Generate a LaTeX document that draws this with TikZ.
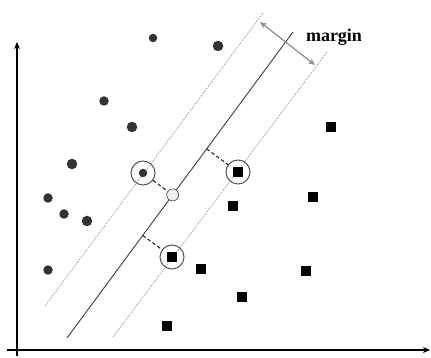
\documentclass[tikz,border=0pt]{standalone}
\usepackage{fontspec}
\setmainfont{Liberation Serif}
\usetikzlibrary{calc,arrows.meta}
\definecolor{dotgray}{HTML}{333333}
\definecolor{ringgray}{HTML}{555555}
\begin{document}
\begin{tikzpicture}[x=1pt,y=-1pt,
  bdot/.style={circle,fill=dotgray,inner sep=0pt,minimum size=#1},
  bdot/.default=9pt,
  sqr/.style={rectangle,fill=black,inner sep=0pt,minimum size=10.5pt},
  ring/.style={circle,draw=ringgray,line width=1pt,inner sep=0pt,minimum size=24pt},
  lightdot/.style={circle,draw=ringgray,fill=black!6,line width=0.7pt,inner sep=0pt,minimum size=12pt},
  marginline/.style={draw=black!40,dash pattern=on 2pt off 1pt,line width=0.6pt},
  hyper/.style={draw=black!70,line width=1pt},
  conn/.style={draw=black!85,dash pattern=on 3.5pt off 2.5pt,line width=1.1pt},
  axis/.style={line width=1.5pt,-{Stealth[length=7pt,width=6pt]}},
  marrow/.style={draw=black!45,line width=1.2pt,{Stealth[length=7pt,width=6pt]}-{Stealth[length=7pt,width=6pt]}},
]
\useasboundingbox (0,0) rectangle (431,358);

% axes
\coordinate (ybot) at (17,356);
\coordinate (ytop) at (17,42);
\coordinate (xbeg) at (7,350);
\coordinate (xend) at (430,350);
\draw[axis] (ybot) -- (ytop);
\draw[axis] (xbeg) -- (xend);

% hyperplane and margins
\coordinate (A) at (67,338);
\coordinate (B) at (293,32);
\coordinate (L1) at (45,306);
\coordinate (L2) at (263,13);
\coordinate (R1) at (113,337);
\coordinate (R2) at (327,52);
\draw[marginline] (L1) -- (L2);
\draw[marginline] (R1) -- (R2);
\draw[hyper] (A) -- (B);

% margin arrow and label
\coordinate (m1) at (260,22);
\coordinate (m2) at (315,65);
\draw[marrow] (m1) -- (m2);
\node[font=\bfseries\fontsize{18}{18}\selectfont] (mlabel) at (334,37) {margin};

% circles
\node[bdot=8.5pt] (c1) at (153,38) {};
\node[bdot=10.5pt] (c2) at (218,46) {};
\node[bdot=9.5pt] (c3) at (104,101) {};
\node[bdot=10.5pt] (c4) at (132,127) {};
\node[bdot=10.5pt] (c5) at (72,164) {};
\node[bdot=8.5pt] (cc) at (143,173) {};
\node[bdot=9.5pt] (c6) at (48,198) {};
\node[bdot=9.5pt] (c7) at (64,214) {};
\node[bdot=10.5pt] (c8) at (87,221) {};
\node[bdot=9.5pt] (c9) at (48,270) {};

% squares
\node[sqr] (s1) at (331,127) {};
\node[sqr] (sa) at (238,172) {};
\node[sqr] (s2) at (313,197) {};
\node[sqr] (s3) at (233,206) {};
\node[sqr] (sb) at (172,257) {};
\node[sqr] (s4) at (201,269) {};
\node[sqr] (s5) at (306,271) {};
\node[sqr] (s6) at (242,297) {};
\node[sqr] (s7) at (167,326) {};

% support vector rings
\node[ring] (r0) at (cc) {};
\node[ring] (ra) at (sa) {};
\node[ring] (rb) at (sb) {};

% projections
\coordinate (fa) at ($(A)!(sa)!(B)$);
\coordinate (fb) at ($(A)!(sb)!(B)$);
\node[lightdot] (light) at ($(A)!(cc)!(B)$) {};
\draw[conn] (r0) -- (light);
\draw[conn] (fa) -- (ra);
\draw[conn] (fb) -- (rb);
\end{tikzpicture}
\end{document}
